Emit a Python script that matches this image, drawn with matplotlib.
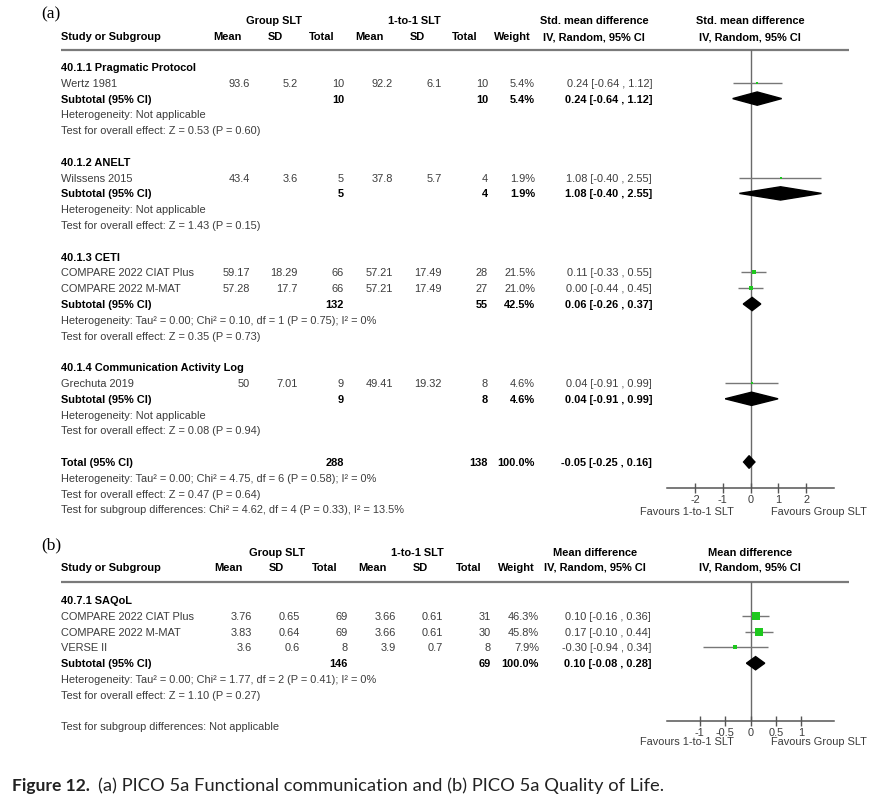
import matplotlib
matplotlib.use("Agg")
import matplotlib.pyplot as plt
from matplotlib.patches import Polygon

plt.rcParams['font.family'] = ['Liberation Sans', 'DejaVu Sans']

# ---------------- DATA: panel (a) ----------------
subgroups_a = ["40.1.1 Pragmatic Protocol", "40.1.2 ANELT", "40.1.3 CETI",
               "40.1.4 Communication Activity Log"]
studies_a = [["Wertz 1981"], ["Wilssens 2015"],
             ["COMPARE 2022 CIAT Plus", "COMPARE 2022 M-MAT"], ["Grechuta 2019"]]
grp_mean_a = [[93.6], [43.4], [59.17, 57.28], [50]]
grp_sd_a = [[5.2], [3.6], [18.29, 17.7], [7.01]]
grp_n_a = [[10], [5], [66, 66], [9]]
ind_mean_a = [[92.2], [37.8], [57.21, 57.21], [49.41]]
ind_sd_a = [[6.1], [5.7], [17.49, 17.49], [19.32]]
ind_n_a = [[10], [4], [28, 27], [8]]
weight_a = [[5.4], [1.9], [21.5, 21.0], [4.6]]
est_a = [[0.24], [1.08], [0.11, 0.00], [0.04]]
lo_a = [[-0.64], [-0.40], [-0.33, -0.44], [-0.91]]
hi_a = [[1.12], [2.55], [0.55, 0.45], [0.99]]

sub_grp_n_a = [10, 5, 132, 9]
sub_ind_n_a = [10, 4, 55, 8]
sub_weight_a = [5.4, 1.9, 42.5, 4.6]
sub_est_a = [0.24, 1.08, 0.06, 0.04]
sub_lo_a = [-0.64, -0.40, -0.26, -0.91]
sub_hi_a = [1.12, 2.55, 0.37, 0.99]
sub_het_a = ["Heterogeneity: Not applicable",
             "Heterogeneity: Not applicable",
             "Heterogeneity: Tau\u00b2 = 0.00; Chi\u00b2 = 0.10, df = 1 (P = 0.75); I\u00b2 = 0%",
             "Heterogeneity: Not applicable"]
sub_test_a = ["Test for overall effect: Z = 0.53 (P = 0.60)",
              "Test for overall effect: Z = 1.43 (P = 0.15)",
              "Test for overall effect: Z = 0.35 (P = 0.73)",
              "Test for overall effect: Z = 0.08 (P = 0.94)"]

total_grp_n_a = 288
total_ind_n_a = 138
total_weight_a = 100.0
total_est_a = -0.05
total_lo_a = -0.25
total_hi_a = 0.16
total_notes_a = ["Heterogeneity: Tau\u00b2 = 0.00; Chi\u00b2 = 4.75, df = 6 (P = 0.58); I\u00b2 = 0%",
                 "Test for overall effect: Z = 0.47 (P = 0.64)",
                 "Test for subgroup differences: Chi\u00b2 = 4.62, df = 4 (P = 0.33), I\u00b2 = 13.5%"]
ticks_a = [-2, -1, 0, 1, 2]
tick_labels_a = ["-2", "-1", "0", "1", "2"]
effect_title_a = "Std. mean difference"

# ---------------- DATA: panel (b) ----------------
subgroups_b = ["40.7.1 SAQoL"]
studies_b = [["COMPARE 2022 CIAT Plus", "COMPARE 2022 M-MAT", "VERSE II"]]
grp_mean_b = [[3.76, 3.83, 3.6]]
grp_sd_b = [[0.65, 0.64, 0.6]]
grp_n_b = [[69, 69, 8]]
ind_mean_b = [[3.66, 3.66, 3.9]]
ind_sd_b = [[0.61, 0.61, 0.7]]
ind_n_b = [[31, 30, 8]]
weight_b = [[46.3, 45.8, 7.9]]
est_b = [[0.10, 0.17, -0.30]]
lo_b = [[-0.16, -0.10, -0.94]]
hi_b = [[0.36, 0.44, 0.34]]
sub_grp_n_b = [146]
sub_ind_n_b = [69]
sub_weight_b = [100.0]
sub_est_b = [0.10]
sub_lo_b = [-0.08]
sub_hi_b = [0.28]
sub_het_b = ["Heterogeneity: Tau\u00b2 = 0.00; Chi\u00b2 = 1.77, df = 2 (P = 0.41); I\u00b2 = 0%"]
sub_test_b = ["Test for overall effect: Z = 1.10 (P = 0.27)"]
final_note_b = "Test for subgroup differences: Not applicable"
ticks_b = [-1, -0.5, 0, 0.5, 1]
tick_labels_b = ["-1", "-0.5", "0", "0.5", "1"]
effect_title_b = "Mean difference"

group_labels = ["Group SLT", "1-to-1 SLT"]
col_headers = ["Mean", "SD", "Total", "Mean", "SD", "Total", "Weight"]
ci_header = "IV, Random, 95% CI"
favours = ["Favours 1-to-1 SLT", "Favours Group SLT"]
caption_bold = "Figure 12."
caption_rest = "(a) PICO 5a Functional communication and (b) PICO 5a Quality of Life."

# ---------------- LAYOUT ----------------
W, H = 871, 804
FS = 7.9
ROW = 15.8
GRAY_TXT = '#3c3c3c'
GREEN = '#1ec81e'
LINE = '#7a7a7a'

fig = plt.figure(figsize=(W / 100, H / 100), dpi=100)
fig.patch.set_facecolor('white')
bg = fig.add_axes([0, 0, 1, 1])
bg.set_xlim(0, W)
bg.set_ylim(H, 0)
bg.axis('off')


def txt(x, y, s, ha='left', bold=False, color=None, size=FS, **kw):
    if color is None:
        color = 'black' if bold else GRAY_TXT
    bg.text(x, y, s, ha=ha, va='center', fontsize=size,
            fontweight='bold' if bold else 'normal', color=color, **kw)


def fmt(v):
    return f"{v:g}"


def ci_str(e, l, h):
    return f"{e:.2f} [{l:.2f} , {h:.2f}]"


def panel(label, label_y, hdr1_y, hdr2_y, line_y, row0_y, axis_y, cols, hdr_x,
          grp_x, eff_x, eff_title, subgroups, studies, gm, gs, gn, im, isd, inn,
          wt, est, lo, hi, sgn, sin, swt, sest, slo, shi, shet, stest,
          total, notes, xlim, ticks, tlabels, box_k, fav_y):
    txt(41, label_y, label, size=12.5, color='black', family='Liberation Serif')
    # headers
    txt(grp_x[0], hdr1_y, group_labels[0], ha='center', bold=True)
    txt(grp_x[1], hdr1_y, group_labels[1], ha='center', bold=True)
    txt(eff_x[0], hdr1_y, eff_title, ha='center', bold=True)
    txt(eff_x[1], hdr1_y, eff_title, ha='center', bold=True)
    txt(61, hdr2_y, "Study or Subgroup", bold=True)
    for h, x in zip(col_headers, hdr_x):
        txt(x, hdr2_y, h, ha='center', bold=True)
    txt(eff_x[0], hdr2_y, ci_header, ha='center', bold=True)
    txt(eff_x[1], hdr2_y, ci_header, ha='center', bold=True)
    bg.plot([61, 849], [line_y, line_y], color=LINE, lw=1.6, solid_capstyle='butt')

    # forest axes
    fx0, fx1 = 667, 834
    ax = fig.add_axes([fx0 / W, 1 - axis_y / H, (fx1 - fx0) / W, (axis_y - line_y) / H])
    ax.set_xlim(*xlim)
    ax.set_ylim((axis_y - row0_y) / ROW, (line_y - row0_y) / ROW)
    ax.patch.set_alpha(0)
    for s in ['top', 'left', 'right']:
        ax.spines[s].set_visible(False)
    ax.spines['bottom'].set_color('#555555')
    ax.spines['bottom'].set_linewidth(1.1)
    ax.set_yticks([])
    ax.set_xticks(ticks)
    ax.set_xticklabels(tlabels)
    ax.tick_params(axis='x', direction='inout', length=7, width=1, color='#555555',
                   labelsize=FS, labelcolor=GRAY_TXT, pad=0.5)
    ax.axvline(0, color='#6a6a6a', lw=1, zorder=1)

    r = 0
    for g in range(len(subgroups)):
        txt(61, row0_y + r * ROW, subgroups[g], bold=True)
        r += 1
        for k in range(len(studies[g])):
            y = row0_y + r * ROW
            txt(61, y, studies[g][k])
            vals = [fmt(gm[g][k]), fmt(gs[g][k]), fmt(gn[g][k]),
                    fmt(im[g][k]), fmt(isd[g][k]), fmt(inn[g][k]),
                    f"{wt[g][k]:.1f}%", ci_str(est[g][k], lo[g][k], hi[g][k])]
            for v, x in zip(vals, cols):
                txt(x, y, v, ha='right')
            ax.hlines(r, lo[g][k], hi[g][k], color='#777777', lw=1, zorder=2)
            side_pt = box_k * wt[g][k] ** 0.5 * 0.72
            ax.scatter([est[g][k]], [r], marker='s', s=side_pt ** 2, color=GREEN,
                       linewidths=0, zorder=3)
            r += 1
        y = row0_y + r * ROW
        txt(61, y, "Subtotal (95% CI)", bold=True)
        for v, x in zip([fmt(sgn[g]), fmt(sin[g]), f"{swt[g]:.1f}%",
                         ci_str(sest[g], slo[g], shi[g])],
                        [cols[2], cols[5], cols[6], cols[7]]):
            txt(x, y, v, ha='right', bold=True)
        ax.add_patch(Polygon([[slo[g], r], [sest[g], r - 0.42], [shi[g], r],
                              [sest[g], r + 0.42]], closed=True, color='black', zorder=4))
        r += 1
        txt(61, row0_y + r * ROW, shet[g]); r += 1
        txt(61, row0_y + r * ROW, stest[g]); r += 1
        r += 1
    if total is not None:
        tg, ti, tw, te, tl, th = total
        y = row0_y + r * ROW
        txt(61, y, "Total (95% CI)", bold=True)
        for v, x in zip([fmt(tg), fmt(ti), f"{tw:.1f}%", ci_str(te, tl, th)],
                        [cols[2], cols[5], cols[6], cols[7]]):
            txt(x, y, v, ha='right', bold=True)
        ax.add_patch(Polygon([[tl, r], [te, r - 0.40], [th, r], [te, r + 0.40]],
                             closed=True, color='black', zorder=4))
        r += 1
    for n in notes:
        txt(61, row0_y + r * ROW, n)
        r += 1
    txt(687, fav_y, favours[0], ha='center')
    txt(819, fav_y, favours[1], ha='center')


panel("(a)", 14, 21, 37, 51, 68, 489,
      [250, 298, 344, 393, 442, 488, 535, 652],
      [227, 275, 322, 369, 417, 465, 512],
      [274, 414], [594, 750], effect_title_a,
      subgroups_a, studies_a, grp_mean_a, grp_sd_a, grp_n_a, ind_mean_a, ind_sd_a,
      ind_n_a, weight_a, est_a, lo_a, hi_a, sub_grp_n_a, sub_ind_n_a, sub_weight_a,
      sub_est_a, sub_lo_a, sub_hi_a, sub_het_a, sub_test_a,
      (total_grp_n_a, total_ind_n_a, total_weight_a, total_est_a, total_lo_a, total_hi_a),
      total_notes_a, (-3.0, 3.0), ticks_a, tick_labels_a, 1.0, 512)

panel("(b)", 545, 553, 568, 583, 601, 722,
      [252, 300, 348, 396, 443, 491, 539, 651],
      [228, 276, 325, 372, 420, 469, 516],
      [277, 417], [595, 750], effect_title_b,
      subgroups_b, studies_b, grp_mean_b, grp_sd_b, grp_n_b, ind_mean_b, ind_sd_b,
      ind_n_b, weight_b, est_b, lo_b, hi_b, sub_grp_n_b, sub_ind_n_b, sub_weight_b,
      sub_est_b, sub_lo_b, sub_hi_b, sub_het_b, sub_test_b,
      None, [final_note_b], (-1.64, 1.64), ticks_b, tick_labels_b, 1.18, 742)

# caption
t1 = bg.text(12, 786, caption_bold, ha='left', va='center', fontsize=12.6,
             fontweight='bold', family='Lato', color='#222222')
bg.annotate(caption_rest, xy=(1, 0.5), xycoords=t1, xytext=(6, 0),
            textcoords='offset points', ha='left', va='center', fontsize=13.2,
            family='Lato', color='#222222')

fig.savefig("out.png", dpi=100, facecolor='white')
